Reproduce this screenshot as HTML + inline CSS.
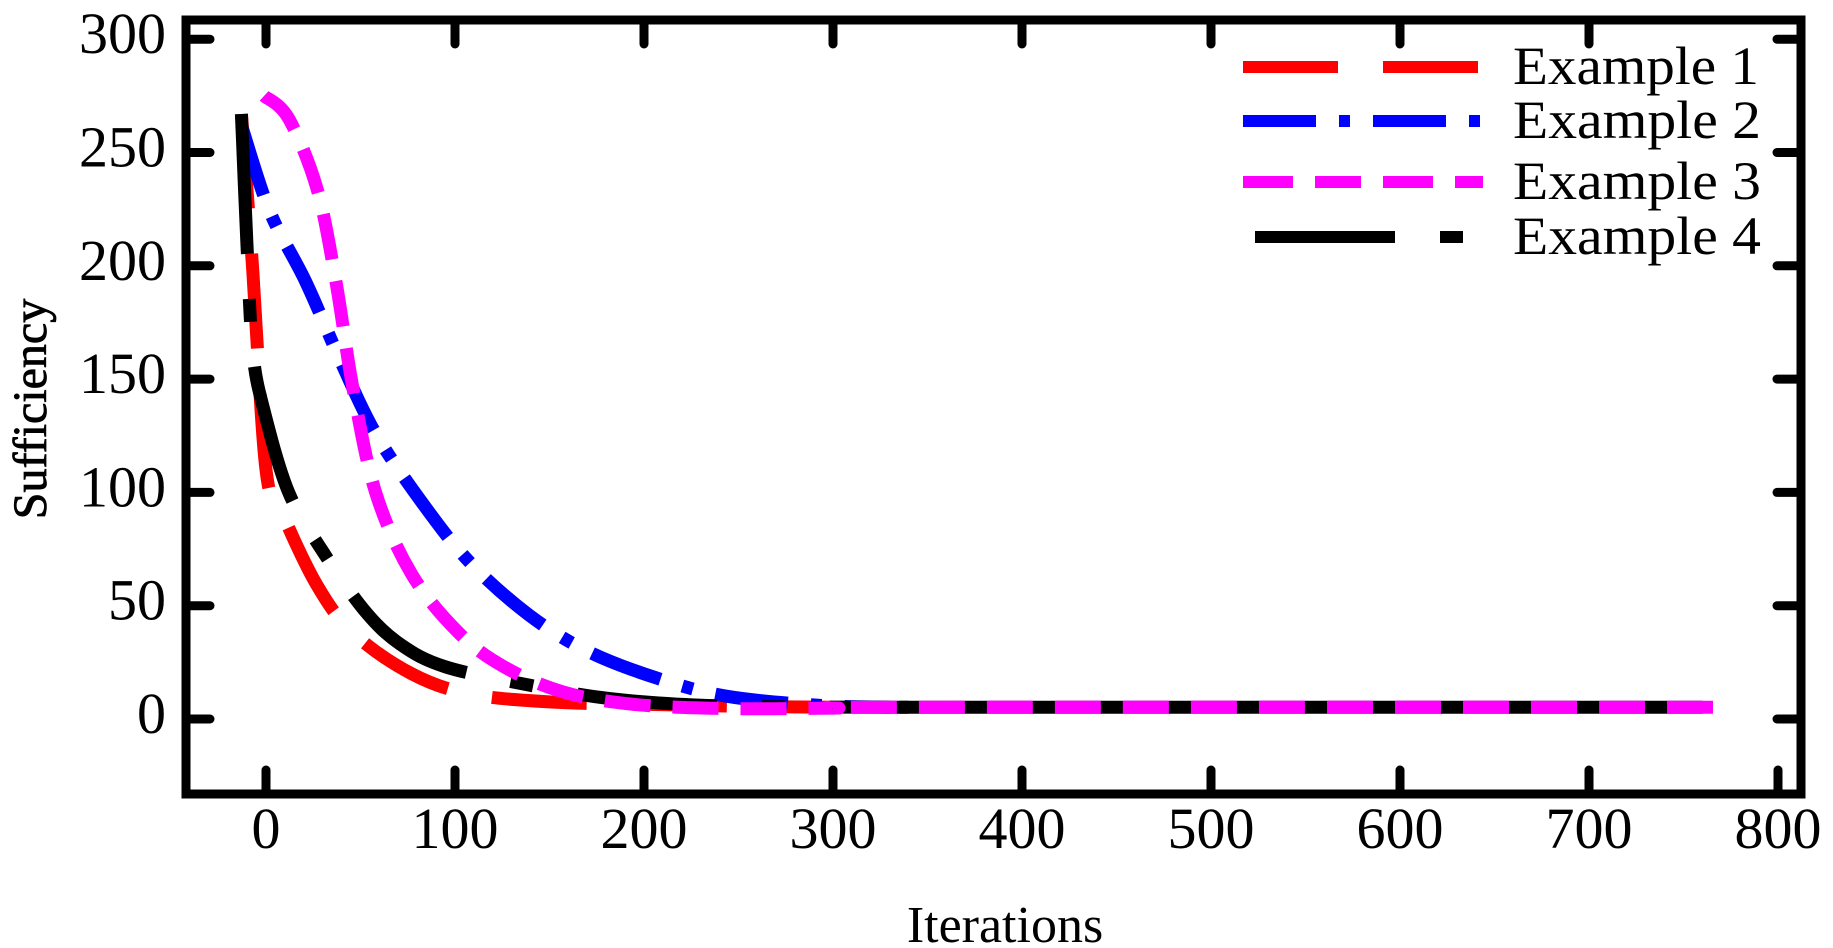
<!DOCTYPE html>
<html><head><meta charset="utf-8"><style>
html,body{margin:0;padding:0;background:#fff}
svg{display:block}
text{font-family:"Liberation Serif",serif;fill:#000}
</style></head><body>
<svg id="s" width="1833" height="948" viewBox="0 0 1833 948" xmlns="http://www.w3.org/2000/svg">
<g id="curves" fill="none" stroke-width="13" stroke-linecap="butt"></g>
<rect x="186" y="20" width="1615" height="774" fill="none" stroke="#000" stroke-width="9"/>
<g id="ticks" stroke="#000" stroke-width="9" stroke-linecap="round"></g>
<g id="labels" font-size="58"></g>
<text x="1005" y="942" font-size="52" text-anchor="middle">Iterations</text>
<text transform="translate(46,409) rotate(-90)" font-size="48" text-anchor="middle" stroke="#000" stroke-width="0.8">Sufficiency</text>
<g stroke-width="12" fill="none">
<line x1="1243" y1="67" x2="1480" y2="67" stroke="#f00" stroke-dasharray="95 45"/>
<line x1="1243" y1="121" x2="1480" y2="121" stroke="#00f" stroke-dasharray="73 23 11 23"/>
<line x1="1243" y1="182" x2="1483" y2="182" stroke="#f0f" stroke-dasharray="50 22 46 22"/>
<line x1="1255" y1="237" x2="1465" y2="237" stroke="#000" stroke-dasharray="140 45 23 60"/>
</g>
<g font-size="54">
<text x="1513" y="84" textLength="246" lengthAdjust="spacingAndGlyphs">Example  1</text>
<text x="1513" y="138" textLength="248" lengthAdjust="spacingAndGlyphs">Example  2</text>
<text x="1513" y="199" textLength="248" lengthAdjust="spacingAndGlyphs">Example  3</text>
<text x="1513" y="254" textLength="248" lengthAdjust="spacingAndGlyphs">Example  4</text>
</g>
</svg>
<script>
var NS="http://www.w3.org/2000/svg";
function X(x){return 266+x*1.89}
function Y(y){return 719-y*2.266}
function el(t,a,p){var e=document.createElementNS(NS,t);for(var k in a)e.setAttribute(k,a[k]);p.appendChild(e);return e}
var tk=document.getElementById('ticks'),lb=document.getElementById('labels');
for(var k=0;k<=8;k++){var x=X(k*100);
 if(k<8){el('line',{x1:x,y1:22,x2:x,y2:44},tk);}
 el('line',{x1:x,y1:792,x2:x,y2:770},tk);
 var t=el('text',{x:x,y:848,'text-anchor':'middle'},lb);t.textContent=k*100;}
for(var v=0;v<=300;v+=50){var y=Y(v);
 el('line',{x1:188,y1:y,x2:210,y2:y},tk);
 el('line',{x1:1799,y1:y,x2:1777,y2:y},tk);
 var t=el('text',{x:166,y:y+14,'text-anchor':'end'},lb);t.textContent=v;}
function path(pts){var p=pts.map(function(q){return [X(q[0]),Y(q[1])]});
 var d="M"+p[0][0]+","+p[0][1];
 for(var i=0;i<p.length-1;i++){var p0=p[i-1]||p[i],p1=p[i],p2=p[i+1],p3=p[i+2]||p2;
  var c1=[p1[0]+(p2[0]-p0[0])/6,p1[1]+(p2[1]-p0[1])/6],c2=[p2[0]-(p3[0]-p1[0])/6,p2[1]-(p3[1]-p1[1])/6];
  d+="C"+c1+" "+c2+" "+p2;}
 return d;}
var g=document.getElementById('curves');
var red=[[-13,267],[-7,198],[0,110],[9,90],[27,59],[46,38],[77,20],[108,11],[151,7.5],[200,6.5],[260,5.5],[300,5.2]];
var blue=[[-13,262],[2,224],[21,193],[40,157],[58,126],[83,95],[108,69],[139,46],[170,30],[207,18],[244,10],[293,6],[330,5.2]];
var mag=[[-1,275],[12,265],[27,234],[37,193],[46,146],[58,100],[77,64],[102,38],[126,23],[157,12],[194,6.5],[244,4.6],[300,4.8],[340,5.2],[770,5.2]];
var blk=[[-13,267],[-10,208],[-7,162],[-1,136],[12,100],[30,74],[52,48],[71,33],[95,23],[139,15],[182,9],[232,6],[290,5.3],[340,5.2]];
el('path',{d:path(red),stroke:'#f00','stroke-dasharray':'95 45'},g);
el('path',{d:path(blue),stroke:'#00f','stroke-dasharray':'73 23 11 23'},g);
el('path',{d:path(blk),stroke:'#000','stroke-dasharray':'140 45 23 45'},g);
el('line',{x1:X(335),y1:Y(5.2),x2:X(760),y2:Y(5.2),stroke:'#000'},g);
el('path',{d:path(mag),stroke:'#f0f','stroke-dasharray':'46 22'},g);
</script>
</body></html>
